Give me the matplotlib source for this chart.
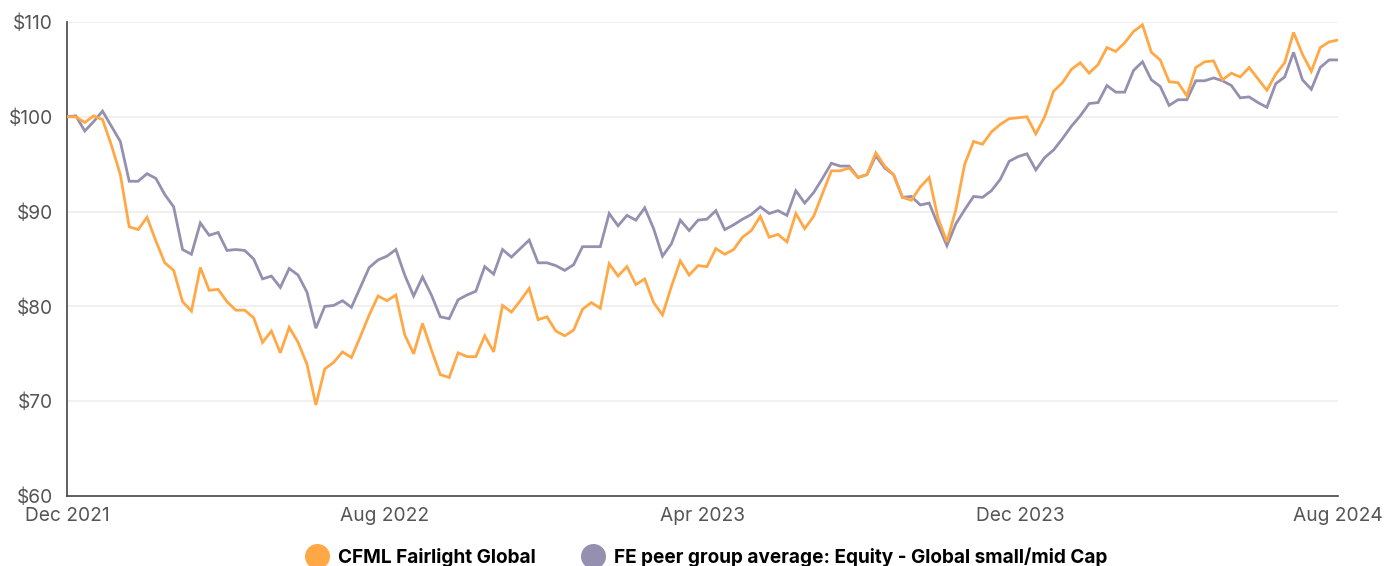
import matplotlib.pyplot as plt
from matplotlib.lines import Line2D
import pandas as pd
import numpy as np

plt.rcParams['font.family'] = ['Inter', 'DejaVu Sans']

# weekly values, growth of $100
FUND_NAME = "CFML Fairlight Global"
PEER_NAME = "FE peer group average: Equity - Global small/mid Cap"

FUND = [
    100.0, 100.0, 99.4, 100.1, 99.7, 97.0, 93.9, 88.4, 88.1, 89.4,
    86.9, 84.6, 83.8, 80.5, 79.5, 84.1, 81.7, 81.8, 80.5, 79.6,
    79.6, 78.8, 76.2, 77.4, 75.1, 77.8, 76.2, 73.9, 69.6, 73.4,
    74.1, 75.2, 74.6, 76.8, 79.1, 81.1, 80.6, 81.2, 77.0, 75.0,
    78.2, 75.4, 72.8, 72.5, 75.1, 74.7, 74.7, 76.9, 75.2, 80.1,
    79.4, 80.6, 81.9, 78.6, 78.9, 77.4, 76.9, 77.5, 79.7, 80.4,
    79.8, 84.5, 83.2, 84.2, 82.3, 82.9, 80.4, 79.1, 82.1, 84.8,
    83.3, 84.3, 84.2, 86.1, 85.5, 86.0, 87.3, 88.0, 89.5, 87.3,
    87.6, 86.8, 89.8, 88.2, 89.5, 91.9, 94.3, 94.3, 94.6, 93.6,
    93.9, 96.2, 94.8, 93.9, 91.5, 91.2, 92.6, 93.6, 89.3, 86.8,
    90.2, 95.0, 97.4, 97.1, 98.4, 99.2, 99.8, 99.9, 100.0, 98.2,
    100.0, 102.7, 103.6, 105.0, 105.7, 104.6, 105.5, 107.3, 106.9, 107.8,
    109.0, 109.7, 106.8, 106.0, 103.7, 103.6, 102.2, 105.2, 105.8, 105.9,
    103.9, 104.6, 104.2, 105.2, 104.0, 102.8, 104.5, 105.7, 108.9, 106.6,
    104.8, 107.3, 107.9, 108.1,
]

PEER = [
    100.0, 100.1, 98.5, 99.5, 100.6, 99.0, 97.4, 93.2, 93.2, 94.0,
    93.5, 91.8, 90.5, 86.0, 85.5, 88.8, 87.5, 87.8, 85.9, 86.0,
    85.9, 85.0, 82.9, 83.2, 82.0, 84.0, 83.3, 81.5, 77.7, 80.0,
    80.1, 80.6, 79.9, 82.0, 84.1, 84.9, 85.3, 86.0, 83.3, 81.1,
    83.1, 81.2, 78.9, 78.7, 80.7, 81.2, 81.6, 84.2, 83.4, 86.0,
    85.2, 86.1, 87.0, 84.6, 84.6, 84.3, 83.8, 84.4, 86.3, 86.3,
    86.3, 89.8, 88.5, 89.6, 89.1, 90.4, 88.2, 85.3, 86.6, 89.1,
    88.0, 89.1, 89.2, 90.1, 88.1, 88.6, 89.2, 89.7, 90.5, 89.8,
    90.1, 89.6, 92.2, 90.9, 92.0, 93.5, 95.1, 94.8, 94.8, 93.6,
    93.9, 95.9, 94.6, 93.9, 91.5, 91.6, 90.7, 90.9, 88.6, 86.4,
    88.7, 90.2, 91.6, 91.5, 92.2, 93.4, 95.3, 95.8, 96.1, 94.4,
    95.7, 96.5, 97.7, 99.0, 100.1, 101.4, 101.5, 103.3, 102.6, 102.6,
    104.9, 105.8, 103.9, 103.2, 101.2, 101.8, 101.8, 103.8, 103.8, 104.1,
    103.8, 103.3, 102.0, 102.1, 101.5, 101.0, 103.5, 104.2, 106.8, 103.9,
    102.9, 105.2, 106.0, 106.0,
]

DATES = pd.date_range("2021-12-01", periods=len(FUND), freq="7D")
Y_TICKS = [60, 70, 80, 90, 100, 110]

FUND_COLOR = "#FFA845"
PEER_COLOR = "#9690B0"

fig = plt.figure(figsize=(13.97, 5.66), dpi=100)
ax = fig.add_axes([67 / 1397, 1 - 496 / 566, (1338 - 67) / 1397, (496 - 22) / 566])

ax.plot(DATES, PEER, color=PEER_COLOR, lw=2.0, solid_joinstyle='miter', zorder=3)
ax.plot(DATES, FUND, color=FUND_COLOR, lw=2.0, solid_joinstyle='miter', zorder=4)

ax.set_xlim(DATES[0], DATES[-1])
ax.set_ylim(60, 110)
ax.set_yticks(Y_TICKS)
ax.set_yticklabels([f"${v}" for v in Y_TICKS])

# five evenly spaced date ticks across the range
xt = pd.to_datetime(np.linspace(DATES[0].value, DATES[-1].value, 5))
ax.set_xticks(xt)
ax.set_xticklabels([d.strftime("%b %Y") for d in xt])

for y in Y_TICKS[1:]:
    ax.axhline(y, color="#EEEEEE", lw=1.2, zorder=1)

for s in ["top", "right"]:
    ax.spines[s].set_visible(False)
for s in ["left", "bottom"]:
    ax.spines[s].set_color("#444444")
    ax.spines[s].set_linewidth(1.2)

ax.tick_params(axis="both", length=0, labelsize=13.8, colors="#555555")
ax.tick_params(axis="y", pad=10)
ax.tick_params(axis="x", pad=8)

handles = [
    Line2D([], [], ls="none", marker="o", ms=17, color=FUND_COLOR),
    Line2D([], [], ls="none", marker="o", ms=17, color=PEER_COLOR),
]
fig.legend(handles, [FUND_NAME, PEER_NAME], loc="center",
           bbox_to_anchor=((67 + 1338) / 2 / 1397, 1 - 557 / 566),
           ncol=2, frameon=False, handletextpad=0.1, columnspacing=2.0,
           prop={"weight": "bold", "size": 13.7})

plt.savefig("out.png", dpi=100)
